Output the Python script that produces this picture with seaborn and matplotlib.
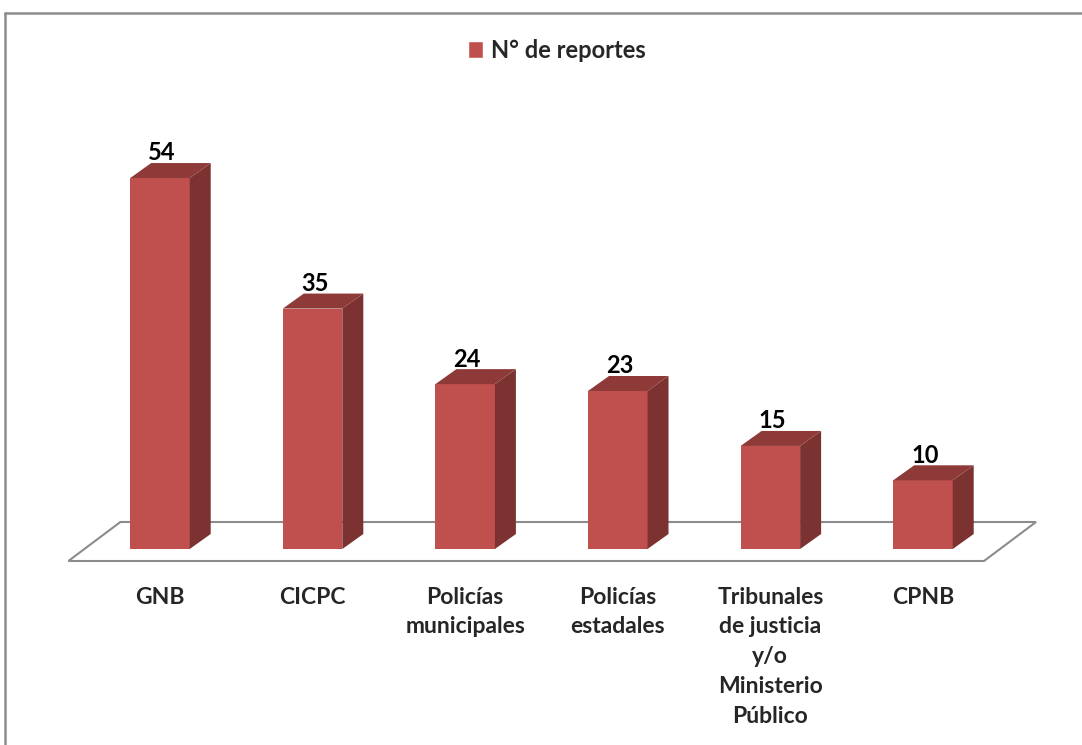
import matplotlib
matplotlib.use("Agg")
import matplotlib.pyplot as plt
import seaborn as sns
import pandas as pd
from matplotlib.patches import Polygon, Patch
from matplotlib.lines import Line2D

categorias = ["GNB", "CICPC", "Policías\nmunicipales", "Policías\nestadales",
              "Tribunales\nde justicia\ny/o\nMinisterio\nPúblico", "CPNB"]
reportes = [54, 35, 24, 23, 15, 10]
serie = "N° de reportes"

frente = "#C0504D"
lado = "#7B3231"
tapa = "#8E3A38"
borde = "#8C8C8C"

W, H = 1082, 745
sns.set_style("white")
plt.rcParams["font.family"] = ["Lato", "DejaVu Sans"]

fig = plt.figure(figsize=(W / 100, H / 100), dpi=100)
ax = fig.add_axes([40 / W, 1 - 549 / H, 1020 / W, (549 - 100) / H])
df = pd.DataFrame({"cat": categorias, "val": reportes})
sns.barplot(data=df, x="cat", y="val", color=frente, width=0.39,
            saturation=1, linewidth=0, ax=ax, zorder=3)
ax.set_xlim(-0.786, 5.898)
ax.set_ylim(0, 65.36)

# pixel scale -> depth of the fake 3d
px_x = 1020 / (ax.get_xlim()[1] - ax.get_xlim()[0])
px_y = 449 / (ax.get_ylim()[1] - ax.get_ylim()[0])
dx, dy = 21 / px_x, 15 / px_y

for bar, v in zip(ax.patches, reportes):
    x0 = bar.get_x()
    x1 = x0 + bar.get_width()
    h = bar.get_height()
    ax.add_patch(Polygon([(x1, 0), (x1, h), (x1 + dx, h + dy), (x1 + dx, dy)],
                         closed=True, facecolor=lado, edgecolor="none", zorder=3))
    ax.add_patch(Polygon([(x0, h), (x1, h), (x1 + dx, h + dy), (x0 + dx, h + dy)],
                         closed=True, facecolor=tapa, edgecolor="none", zorder=3))
    ax.text((x0 + x1) / 2 + dx * 0.1, h + dy - 0.2, str(v), ha="center", va="bottom",
            fontsize=17, fontweight="bold", color="black", zorder=5)

# floor
fx0, fx1 = -0.6, len(categorias) - 1 + 0.4
fy = -12 / px_y
fdx, fdy = 52 / px_x, 39 / px_y
ax.add_patch(Polygon([(fx0, fy), (fx1, fy), (fx1 + fdx, fy + fdy), (fx0 + fdx, fy + fdy)],
                     closed=True, facecolor="white", edgecolor=borde, lw=1.5,
                     zorder=1, clip_on=False))

ax.set_xlabel("")
ax.set_ylabel("")
ax.set_yticks([])
ax.tick_params(axis="x", length=0, pad=27)
for t in ax.get_xticklabels():
    t.set_fontsize(16.5)
    t.set_fontweight("bold")
    t.set_linespacing(1.52)
    t.set_verticalalignment("top")
sns.despine(ax=ax, left=True, bottom=True)

# chart area border
fig.add_artist(Line2D([5 / W, 5 / W], [0, 1 - 13 / H], color=borde, lw=1.8,
                      transform=fig.transFigure))
fig.add_artist(Line2D([5 / W, 1], [1 - 13 / H, 1 - 13 / H], color=borde, lw=1.8,
                      transform=fig.transFigure))

fig.legend([Patch(facecolor=frente)], [serie], loc="center",
           bbox_to_anchor=(557 / W, 1 - 50 / H), frameon=False,
           prop={"size": 17, "weight": "bold"}, handlelength=0.6,
           handleheight=0.75, handletextpad=0.35)

fig.savefig("out.png", dpi=100)
